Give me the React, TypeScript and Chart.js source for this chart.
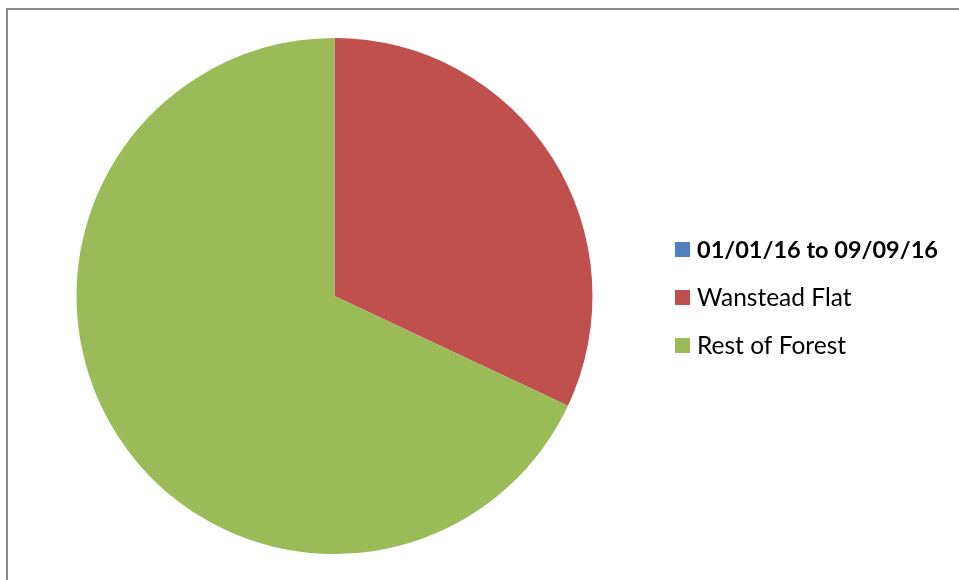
import React, { useEffect, useRef } from "react";
import { Chart, registerables } from "chart.js";

Chart.register(...registerables);

const categories = ["01/01/16 to 09/09/16", "Wanstead Flat", "Rest of Forest"];
const values = [0, 32, 68];
const colors = ["#4F81BD", "#C0504D", "#9BBB59"];

const legendPlugin = {
  id: "excelLegend",
  afterDraw(chart: any) {
    const ctx = chart.ctx;
    const labels = chart.data.labels as string[];
    const bg = chart.data.datasets[0].backgroundColor as string[];
    ctx.save();
    labels.forEach((lab, i) => {
      const y = 249.5 + i * 48;
      ctx.fillStyle = bg[i];
      ctx.fillRect(675, y - 7.5, 15, 15);
      ctx.fillStyle = "#000000";
      ctx.textBaseline = "middle";
      ctx.font = (i === 0 ? "bold 23.5px" : "24.5px") + " Lato";
      ctx.fillText(lab, 697, y + 1);
    });
    ctx.restore();
  },
};

export default function App() {
  const ref = useRef<HTMLCanvasElement>(null);
  useEffect(() => {
    if (!ref.current) return;
    const chart = new Chart(ref.current, {
      type: "pie",
      data: {
        labels: categories,
        datasets: [
          {
            data: values,
            backgroundColor: colors,
            borderWidth: 0,
          },
        ],
      },
      options: {
        animation: false,
        responsive: false,
        devicePixelRatio: 1,
        layout: { padding: { left: 76, right: 366, top: 38, bottom: 26 } },
        plugins: { legend: { display: false }, tooltip: { enabled: false } },
      },
      plugins: [legendPlugin],
    });
    return () => chart.destroy();
  }, []);
  return (
    <div>
      <div
        style={{
          position: "fixed",
          left: 6,
          top: 8,
          width: 1200,
          height: 1200,
          borderTop: "2px solid #898989",
          borderLeft: "2px solid #898989",
          boxSizing: "border-box",
        }}
      />
      <canvas
        ref={ref}
        width={959}
        height={580}
        style={{ position: "fixed", left: 0, top: 0, width: 959, height: 580 }}
      />
    </div>
  );
}
